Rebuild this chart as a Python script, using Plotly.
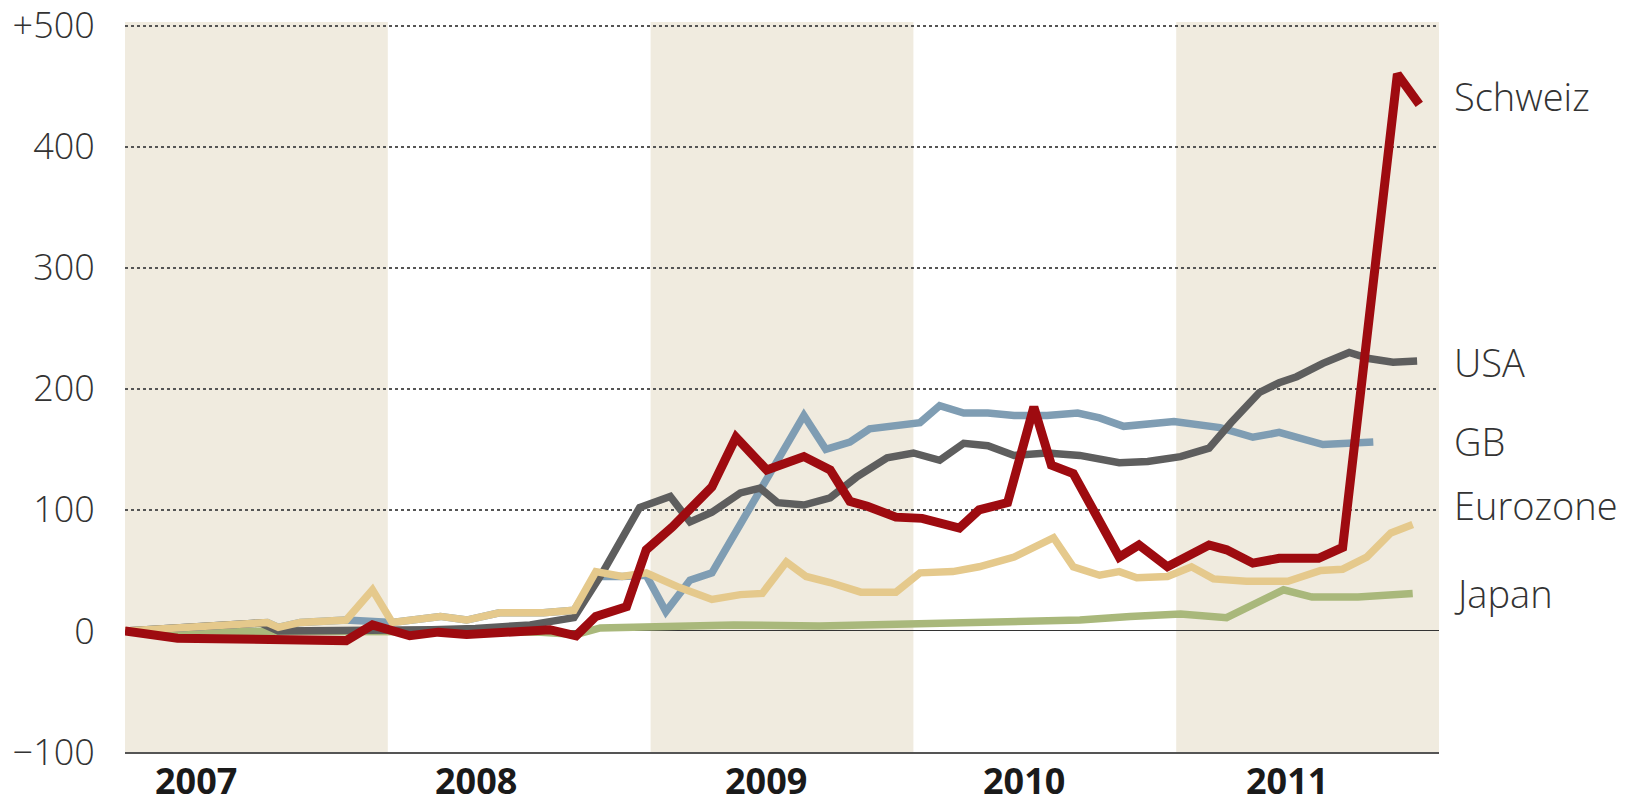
import plotly.graph_objects as go

# ---- data (months since Jan 2007, values) ----
years = [2007, 2008, 2009, 2010, 2011]
year_labels = ["2007", "2008", "2009", "2010", "2011"]
shaded_years = [2007, 2009, 2011]

y_ticks = [-100, 0, 100, 200, 300, 400, 500]
y_tick_labels = ["\u2212100", "0", "100", "200", "300", "400", "+500"]

schweiz_m = [0, 2.4, 10.1, 11.3, 13.0, 14.3, 15.6, 17.1, 19.4, 20.6, 21.5, 22.9, 23.8, 25.0, 26.8,
             27.9, 29.3, 31.0, 32.2, 33.1, 33.9, 35.2, 36.4, 38.1, 39.0, 40.3, 41.5, 42.3, 43.3,
             45.4, 46.3, 47.6, 49.5, 50.3, 51.5, 52.7, 54.5, 55.6, 58.1, 59.1]
schweiz_v = [0, -6, -8, 5, -4, -1, -3, -1, 1, -4, 12, 20, 67, 86, 119,
             160, 133, 144, 133, 107, 103, 94, 93, 85, 100, 106, 185, 137, 130,
             61, 71, 53, 71, 67, 56, 60, 60, 69, 460, 435]

usa_m = [0, 3, 6.2, 7.0, 10, 12, 14, 16, 17.1, 18.5, 20.5, 21.8, 23.5, 24.9, 25.8, 26.8, 28.1,
         29.0, 29.8, 31.0, 32.2, 33.4, 34.8, 36.0, 37.2, 38.3, 39.4, 40.6, 42.1, 43.6, 45.4,
         46.7, 48.2, 49.5, 50.5, 51.8, 52.7, 53.5, 54.7, 55.9, 56.8, 57.9, 59.0]
usa_v = [0, 3, 6.5, 0, 0, 1, 1, 2, 3, 5, 11, 48, 102, 111, 90, 98, 114,
         118, 106, 104, 110, 127, 143, 147, 141, 155, 153, 145, 147, 145, 139,
         140, 144, 151, 172, 197, 205, 210, 221, 230, 225, 222, 223]

gb_m = [0, 6.5, 7.0, 8.0, 10.1, 12.2, 14.4, 15.6, 17.1, 19.1, 20.5, 21.5, 22.7, 23.8, 24.7, 25.8,
        26.8, 31.0, 32.0, 33.1, 34.0, 34.9, 36.3, 37.2, 38.3, 39.4, 40.6, 42.1, 43.5, 44.5, 45.6,
        47.9, 50.0, 51.5, 52.7, 54.7, 57.0]
gb_v = [0, 7, 3, 7, 9, 7, 12, 9, 15, 15, 17, 45, 45, 46, 16, 42,
        48, 178, 150, 156, 167, 169, 172, 186, 180, 180, 178, 178, 180, 176, 169,
        173, 168, 160, 164, 154, 156]

euro_m = [0, 6.5, 7.0, 8.0, 10.1, 11.3, 12.2, 14.4, 15.6, 17.1, 19.1, 20.5, 21.5, 22.7, 23.8,
          25.3, 26.8, 28.1, 29.1, 30.2, 31.1, 32.2, 33.6, 35.2, 36.3, 37.8, 39.0, 40.6, 42.4,
          43.3, 44.5, 45.4, 46.2, 47.6, 48.7, 49.7, 51.2, 53.1, 54.6, 55.6, 56.7, 57.8, 58.8]
euro_v = [0, 7, 3, 7, 9, 34, 7, 12, 9, 15, 15, 17, 49, 45, 48,
          36, 26, 30, 31, 57, 45, 40, 32, 32, 48, 49, 53, 61, 77,
          53, 46, 49, 44, 45, 53, 43, 41, 41, 50, 51, 61, 81, 88]

japan_m = [0, 10, 19, 20.6, 21.7, 23.2, 27.8, 31.7, 36, 40, 43.6, 45.9, 48.2, 50.3, 51.5,
           52.9, 54.2, 56.3, 58.8]
japan_v = [0, -1, -1, -3, 2.5, 3, 5, 4, 6, 8, 9, 12, 14, 11, 21, 34, 28, 28, 31]

# name, months, values, colour, width, label y
series = [
    ("Japan", japan_m, japan_v, "#a9b87b", 7.5, 31),
    ("GB", gb_m, gb_v, "#7f9db3", 7.5, 157),
    ("USA", usa_m, usa_v, "#5e5e5e", 7.5, 222),
    ("Eurozone", euro_m, euro_v, "#e5c98c", 7.5, 104),
    ("Schweiz", schweiz_m, schweiz_v, "#9e0b10", 9, 442),
]

fig = go.Figure()
for name, m, v, color, w, _ in series:
    fig.add_trace(go.Scatter(
        x=[2007 + mm / 12 for mm in m], y=v, mode="lines", name=name,
        line=dict(color=color, width=w), showlegend=False, hoverinfo="skip"))

shapes = []
for yr in shaded_years:
    shapes.append(dict(type="rect", xref="x", yref="paper", x0=yr, x1=yr + 1, y0=0, y1=1,
                       fillcolor="#f0ebdf", line=dict(width=0), layer="below"))
annotations = []
for name, m, v, color, w, ly in series:
    annotations.append(dict(x=1.0, xref="paper", xanchor="left", xshift=13, y=ly, yref="y",
                            text=name, showarrow=False,
                            font=dict(family="Open Sans", size=38, color="#333333", weight=300)))

label_offsets = [0.27, 0.335, 0.44, 0.42, 0.42]
for yr, lab, off in zip(years, year_labels, label_offsets):
    annotations.append(dict(x=yr + off, xref="x", y=0, yref="paper", yanchor="top", yshift=-2,
                            text=lab, showarrow=False,
                            font=dict(family="Open Sans", size=36, color="#1a1a1a", weight=700)))

fig.update_layout(
    width=1623, height=790,
    margin=dict(l=117, r=192, t=14, b=46),
    paper_bgcolor="white", plot_bgcolor="white",
    shapes=shapes, annotations=annotations,
    xaxis=dict(range=[2007, 2012], showgrid=False, zeroline=False, automargin=False,
               showticklabels=False, ticks="",
               showline=True, linecolor="#555555", linewidth=2),
    yaxis=dict(range=[-100, 503], tickvals=y_ticks, ticktext=y_tick_labels, automargin=False,
               ticklabeloverflow="allow",
               showgrid=True, gridcolor="#555555", griddash="dot", gridwidth=1.8,
               zeroline=True, zerolinecolor="#333333", zerolinewidth=1.2,
               ticks="outside", ticklen=22, tickcolor="rgba(0,0,0,0)",
               tickfont=dict(family="Open Sans", size=36, color="#333333", weight=300)),
)
fig.write_html("out.html")
